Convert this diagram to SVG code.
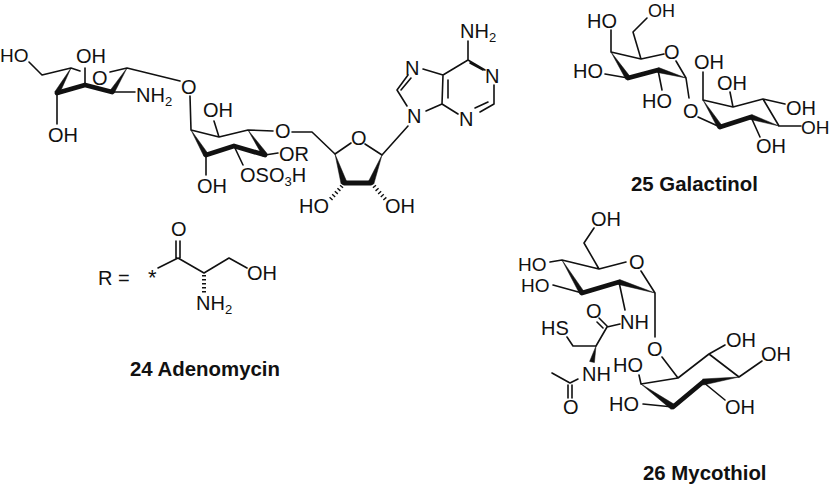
<svg xmlns="http://www.w3.org/2000/svg" width="830" height="485" viewBox="0 0 830 485">
<style>
text{font-family:"Liberation Sans",Arial,sans-serif;font-size:20px;fill:#111}
.t{font-weight:bold;font-size:20.4px}
.s{font-size:13px}
.m{font-size:19px}
.n{font-size:18px}
path{fill:none;stroke:#111;stroke-width:1.6;stroke-linecap:round;stroke-linejoin:round}
.b{stroke-width:4.8}
.h{stroke-width:4;stroke-dasharray:1.4 2.6;stroke-linecap:butt}
polygon{fill:#111;stroke:#111;stroke-width:.5}
</style>
<rect width="830" height="485" fill="#fff"/>
<g id="adenomycin">
<path d="M29 62L42 75L71 68L80 71M57 93V124M85 85V68M112 92H135M127 68L110 72M127 68L180 81M190 96L191 130L219 137L248 130L273 131M219 137L214 121M265 155L278 153M234 146L243 165M206 155V175"/>
<path class="b" d="M57 93L85 85L112 92M206 155L234 146L265 155"/>
<polygon points="71,68 59.2,94.2 54.8,91.8"/><polygon points="127,68 114.1,93.3 109.9,90.7"/><polygon points="191,130 208.1,153.7 203.9,156.3"/><polygon points="248,130 267.1,153.6 262.9,156.4"/>
<path d="M292 132H312L335 154L351 143M365 144L382 155L408 126M407 106L397 90L408 75M401 90L411 78M423 69L443 75L442 104L426 111M448 80V98M443 75L468 60V41M468 60L485 70M470 63L483 70M494 85V104L480 112M475 108L488 102M458 114L442 104"/>
<path class="b" d="M344 183H371"/>
<polygon points="335,154 346.9,182.1 341.1,183.9"/><polygon points="382,155 373.8,184.1 368.2,181.9"/>
<path class="h" d="M342 186L329 201M374 186L386 200"/>
<path d="M158 268L178 258L204 273L229 258L247 268M176 241V258M180 241V258"/>
<path class="h" d="M204 275V293"/>
<text class="m" x="0" y="62">HO</text><text x="76" y="63">OH</text><text x="92" y="85">O</text><text x="136" y="102">NH<tspan class="s" dy="4">2</tspan></text><text x="48" y="142">OH</text><text x="181" y="94">O</text>
<text x="203" y="117">OH</text><text x="275" y="138">O</text><text x="279" y="160.5">OR</text><text x="240" y="182">OSO<tspan class="s" dy="4">3</tspan><tspan dy="-4">H</tspan></text><text x="197" y="193">OH</text>
<text x="351" y="145">O</text><text x="299" y="213">HO</text><text x="385" y="213">OH</text>
<text x="407" y="123">N</text><text x="405" y="75">N</text><text x="485" y="83">N</text><text x="459" y="126">N</text><text x="460" y="38">NH<tspan class="s" dy="4">2</tspan></text>
<text x="98" y="285">R =</text><text x="148" y="285" font-size="22" style="font-size:22px">*</text><text x="171" y="236">O</text><text x="247" y="280">OH</text><text x="196" y="310">NH<tspan class="s" dy="4">2</tspan></text>
<text class="t" x="130" y="376">24 Adenomycin</text>
</g>
<g id="galactinol">
<path d="M647 18L633 32L641 59L664 54M611 30V52L641 59M605 74L628 78M676 61L686 78M658 70L662 90M686 78L689 98"/>
<path class="b" d="M628 78L658 70"/>
<polygon points="611,52 630.1,76.6 625.9,79.4"/><polygon points="686,78 658.7,67.6 657.3,72.4"/>
<path d="M703 72V100L733 107L763 99L779 126H801M733 107L730 92M763 99L785 104M751 117L760 137M698 117L720 127"/>
<path class="b" d="M720 127L751 117"/>
<polygon points="703,100 722.1,125.7 717.9,128.3"/><polygon points="779,126 751.8,114.6 750.2,119.4"/>
<text class="n" x="648" y="16.5">OH</text><text x="587" y="28">HO</text><text x="573" y="78">HO</text><text x="642" y="108">HO</text><text x="664" y="59">O</text><text x="683" y="118">O</text>
<text x="694" y="69">OH</text><text x="717" y="90">OH</text><text x="786" y="115">OH</text><text class="m" x="801" y="134">OH</text><text x="756" y="153">OH</text>
<text class="t" x="631" y="191">25 Galactinol</text>
</g>
<g id="mycothiol">
<path d="M594 228L584 243L599 269L626 262M641 271L655 293V337M599 269L562 260L550 262M553 285L582 293M619 282L625 310M607 327L620 324M599 318L607 326M597 322L603 328M607 327L596 346H573L567 337M578 379L570 383L552 373M568 385V398M572 385V398"/>
<path class="b" d="M582 293L619 282"/>
<polygon points="562,260 584.1,291.7 579.9,294.3"/><polygon points="655,293 619.7,279.6 618.3,284.4"/><polygon points="596,346 594.4,362.6 589.6,361.4"/>
<path d="M662 357L678 378L641 384L639 375M678 378L709 354L739 377M709 354L725 345M739 377L762 361M703 382L725 400M673 407L643 404"/>
<path class="b" d="M673 407L703 382"/>
<polygon points="641,384 674.7,404.6 671.3,409.4"/><polygon points="739,377 703.4,385 702.6,379"/>
<text x="591" y="226">OH</text><text class="m" x="518" y="270.5">HO</text><text class="m" x="521" y="292">HO</text><text x="629" y="269">O</text><text x="620" y="329">NH</text><text x="586" y="318">O</text><text x="541" y="335">HS</text><text x="582" y="381">NH</text><text x="563" y="414">O</text><text x="647" y="356">O</text>
<text x="726" y="347">OH</text><text x="761" y="361">OH</text><text x="725" y="414">OH</text><text x="613" y="372">HO</text><text x="609" y="411">HO</text>
<text class="t" x="643" y="480">26 Mycothiol</text>
</g>
</svg>
